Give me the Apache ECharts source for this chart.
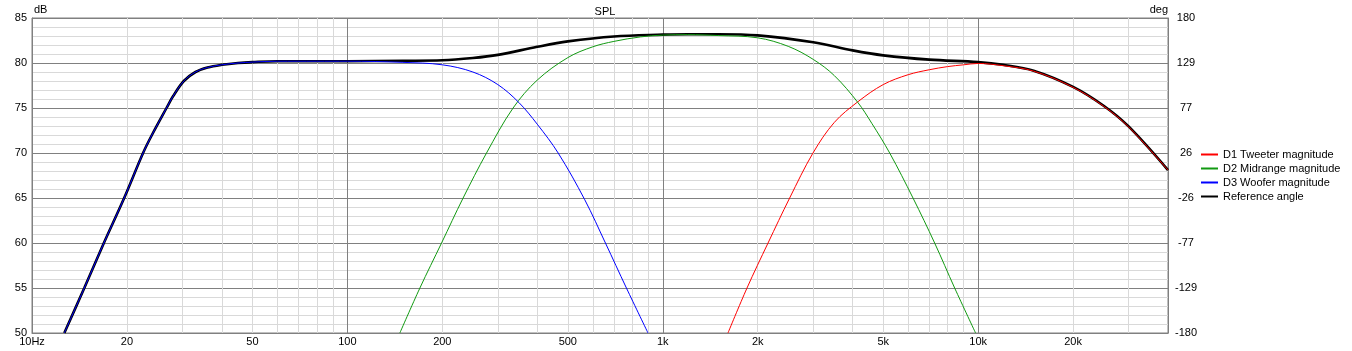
<!DOCTYPE html>
<html>
<head>
<meta charset="utf-8">
<script src="https://cdn.jsdelivr.net/npm/echarts@6/dist/echarts.min.js"></script>
<style>
html,body{margin:0;padding:0;background:#fff;}
#chart{width:1352px;height:351px;}
</style>
</head>
<body>
<div id="chart"></div>
<script>
// ---- data ----
const wooferFreq = [12.66, 14.65, 16.9, 19.6, 22.5, 24, 26.7, 28, 30.3, 33, 36, 40, 45, 50, 60, 80, 100, 150, 200, 250, 300, 350, 400, 466, 566, 658, 767, 898];
const wooferDb   = [50, 55, 60, 65, 70, 72, 75, 76.3, 78, 79, 79.5, 79.8, 80.0, 80.1, 80.2, 80.2, 80.2, 80.07, 79.8, 79.0, 77.6, 75.6, 73.2, 70, 64.8, 60, 55, 50];

const midFreq = [146.7, 169.8, 198.9, 232.8, 276.2, 335.3, 400, 500, 600, 700, 850, 1000, 1200, 1500, 2000, 2500, 3000, 3500, 4159, 4600, 5243, 6216, 7280, 8426, 9816];
const midDb   = [50, 55, 60, 65, 70, 75, 78.1, 80.6, 81.8, 82.4, 82.9, 83.1, 83.15, 83.05, 82.8, 81.85, 80.4, 78.6, 75.6, 73.3, 70, 65, 60, 55, 50];

const tweeterFreq = [1610, 1850, 2157, 2526, 2995, 3500, 4159, 5000, 6000, 7000, 8000, 9000, 10000, 12000, 15000, 20000, 25000, 30000, 40000];
const tweeterDb   = [50, 55, 60, 65, 70, 73.4, 75.7, 77.6, 78.7, 79.25, 79.6, 79.8, 79.95, 79.7, 79.1, 77.3, 75.2, 72.9, 68.1];

const refFreq = [12.66, 14.65, 16.9, 19.6, 22.5, 24, 26.7, 28, 30.3, 33, 36, 40, 45, 50, 60, 80, 100, 150, 200, 250, 300, 400, 500, 700, 1000, 1200, 1500, 2000, 3000, 4000, 5000, 7000, 10000, 12000, 15000, 20000, 25000, 30000, 40000];
const refDb   = [50, 55, 60, 65, 70, 72, 75, 76.3, 78, 79, 79.5, 79.8, 80.0, 80.1, 80.2, 80.2, 80.2, 80.25, 80.3, 80.55, 80.9, 81.8, 82.4, 82.95, 83.15, 83.2, 83.2, 83.07, 82.3, 81.4, 80.85, 80.37, 80.1, 79.8, 79.15, 77.35, 75.25, 72.95, 68.1];

const seriesNames = ['D1 Tweeter magnitude', 'D2 Midrange magnitude', 'D3 Woofer magnitude', 'Reference angle'];

const xTickValues = [10, 20, 50, 100, 200, 500, 1000, 2000, 5000, 10000, 20000];
const xTickLabels = ['10Hz', '20', '50', '100', '200', '500', '1k', '2k', '5k', '10k', '20k'];
const xGridValues = [10,20,30,40,50,60,70,80,90,100,200,300,400,500,600,700,800,900,1000,2000,3000,4000,5000,6000,7000,8000,9000,10000,20000,30000,40000];
const degLabels = ['-180', '-129', '-77', '-26', '26', '77', '129', '180'];

// ---- chart ----
const pairs = (f, v) => f.map((x, i) => [x, v[i]]);
const FONT = 'Liberation Sans, Arial, sans-serif';
const MAJOR = '#808080', MINOR = '#d9d9d9';

const chart = echarts.init(document.getElementById('chart'), null, {renderer: 'canvas'});
const lineSeries = (name, f, v, color, width, z) => ({
  name, type: 'line', data: pairs(f, v), smooth: 0.35, symbol: 'none', z,
  lineStyle: {color, width}, itemStyle: {color}
});
chart.setOption({
  animation: false,
  backgroundColor: '#ffffff',
  textStyle: {fontFamily: FONT, fontSize: 11, color: '#000'},
  title: {
    text: 'SPL', left: 600, top: 1, textAlign: 'center',
    textStyle: {fontFamily: FONT, fontSize: 11, fontWeight: 'normal', color: '#000'}
  },
  grid: {left: 32, right: 184, top: 18, bottom: 18, show: true, borderColor: MAJOR, borderWidth: 1, backgroundColor: '#fff'},
  legend: {
    orient: 'vertical', left: 1200, top: 149, padding: 0, itemWidth: 17, itemHeight: 10, itemGap: 3,
    data: seriesNames,
    itemStyle: {opacity: 0},
    textStyle: {fontFamily: FONT, fontSize: 11, color: '#000'}
  },
  xAxis: {
    type: 'log', logBase: 10, min: 10, max: 40000,
    axisLine: {show: true, lineStyle: {color: MAJOR}},
    axisTick: {show: false, customValues: xGridValues},
    axisLabel: {
      customValues: xTickValues, margin: 3, color: '#000', fontFamily: FONT, fontSize: 11,
      formatter: v => { const i = xTickValues.indexOf(v); return i >= 0 ? xTickLabels[i] : ''; }
    },
    splitLine: {show: true, lineStyle: {width: 1, color: [MAJOR, MINOR, MINOR, MINOR, MINOR, MINOR, MINOR, MINOR, MINOR]}}
  },
  yAxis: [{
    type: 'value', min: 50, max: 85, interval: 5, position: 'left',
    name: 'dB', nameLocation: 'end', nameGap: 3,
    nameTextStyle: {align: 'left', verticalAlign: 'bottom', color: '#000', fontFamily: FONT, fontSize: 11, padding: [0, 0, 0, 2]},
    axisLine: {show: true, lineStyle: {color: MAJOR}},
    axisTick: {show: false},
    axisLabel: {margin: 5, color: '#000', fontFamily: FONT, fontSize: 11},
    splitLine: {show: true, lineStyle: {color: MAJOR, width: 1}},
    minorTick: {show: false, splitNumber: 5},
    minorSplitLine: {show: true, lineStyle: {color: MINOR, width: 1}}
  }, {
    type: 'value', min: 0, max: 7, interval: 1, position: 'right',
    name: 'deg', nameLocation: 'end', nameGap: 3,
    nameTextStyle: {align: 'right', verticalAlign: 'bottom', color: '#000', fontFamily: FONT, fontSize: 11},
    axisLine: {show: true, lineStyle: {color: MAJOR}},
    axisTick: {show: false},
    axisLabel: {margin: 18, align: 'center', color: '#000', fontFamily: FONT, fontSize: 11,
      formatter: v => degLabels[Math.round(v)]},
    splitLine: {show: false}
  }],
  series: [
    lineSeries(seriesNames[3], refFreq, refDb, '#000000', 2.6, 2),
    lineSeries(seriesNames[0], tweeterFreq, tweeterDb, '#ff0000', 1, 3),
    lineSeries(seriesNames[1], midFreq, midDb, '#119911', 1, 3),
    lineSeries(seriesNames[2], wooferFreq, wooferDb, '#0000ff', 1, 3)
  ]
});
</script>
</body>
</html>
